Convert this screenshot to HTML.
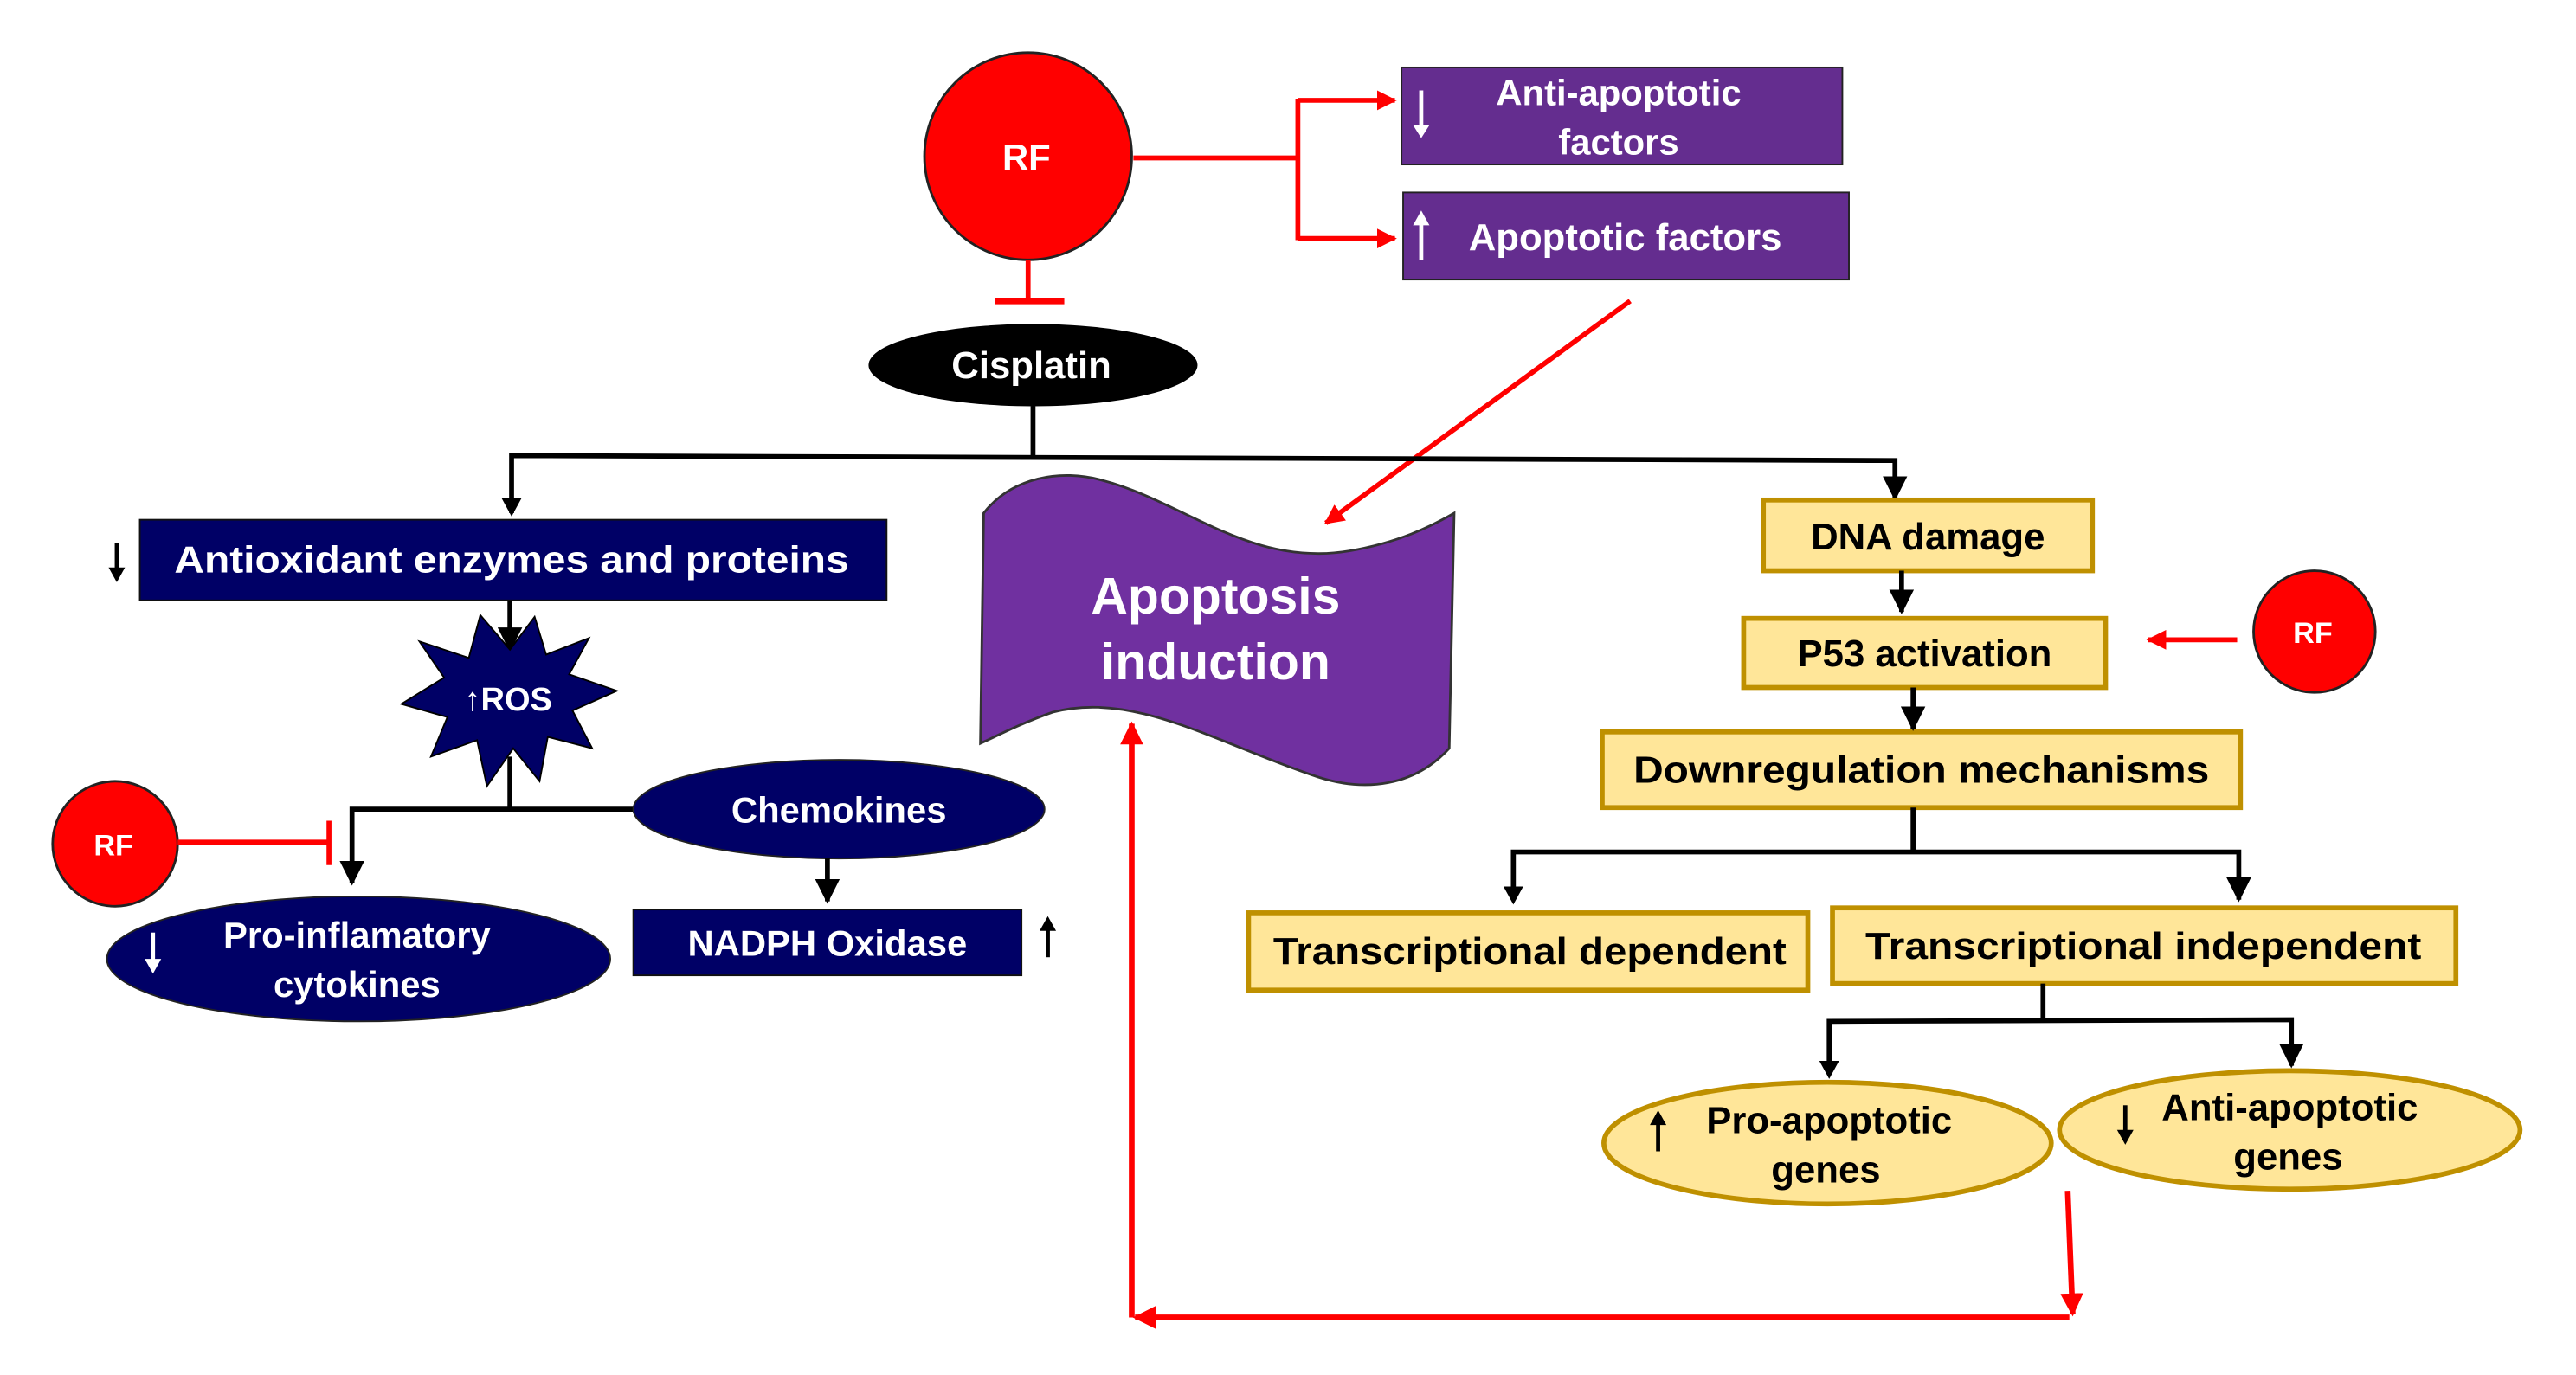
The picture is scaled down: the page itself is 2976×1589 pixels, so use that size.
<!DOCTYPE html>
<html><head><meta charset="utf-8"><style>
html,body{margin:0;padding:0;background:#fff;}
svg{display:block;}
text{font-family:"Liberation Sans",Arial,sans-serif;font-weight:bold;}
</style></head><body>
<svg width="2976" height="1589" viewBox="0 0 1566 836" preserveAspectRatio="none" xmlns="http://www.w3.org/2000/svg">
<defs>
<marker id="ab" viewBox="0 0 10 10" refX="9" refY="5" markerWidth="5" markerHeight="5" orient="auto"><path d="M0,0 L10,5 L0,10 z" fill="#000"/></marker>
<marker id="ar" viewBox="0 0 10 10" refX="9" refY="5" markerWidth="4" markerHeight="4" orient="auto"><path d="M0,0 L10,5 L0,10 z" fill="#f00"/></marker>
</defs>
<rect width="1566" height="836" fill="#fff"/>

<circle cx="625" cy="95" r="63" fill="#f00" stroke="#222" stroke-width="1.5"/>
<text x="624" y="103" fill="#fff" font-size="22" text-anchor="middle">RF</text>
<line x1="625" y1="158" x2="625" y2="183" stroke="#f00" stroke-width="3"/>
<line x1="605" y1="183" x2="647" y2="183" stroke="#f00" stroke-width="4"/>

<g stroke="#f00" stroke-width="3" fill="none">
<line x1="689" y1="96" x2="789" y2="96"/>
<line x1="789" y1="60" x2="789" y2="146"/>
<line x1="789" y1="61" x2="848" y2="61" marker-end="url(#ar)"/>
<line x1="789" y1="145" x2="848" y2="145" marker-end="url(#ar)"/>
<line x1="991" y1="183" x2="806" y2="318" marker-end="url(#ar)"/>
</g>
<rect x="852" y="41" width="268" height="59" fill="#642D8F" stroke="#222" stroke-width="1"/>
<text x="984" y="64" fill="#fff" font-size="22" text-anchor="middle">Anti-apoptotic</text>
<text x="984" y="94" fill="#fff" font-size="22" text-anchor="middle">factors</text>
<line x1="864" y1="55" x2="864" y2="78" stroke="#fff" stroke-width="2.5"/>
<path d="M859,76 L864,84 L869,76 z" fill="#fff"/>
<rect x="853" y="117" width="271" height="53" fill="#642D8F" stroke="#222" stroke-width="1"/>
<text x="988" y="152" fill="#fff" font-size="23" text-anchor="middle">Apoptotic factors</text>
<line x1="864" y1="158" x2="864" y2="134" stroke="#fff" stroke-width="2.5"/>
<path d="M859,137 L864,128 L869,137 z" fill="#fff"/>

<ellipse cx="628" cy="222" rx="100" ry="25" fill="#000"/>
<text x="627" y="230" fill="#fff" font-size="23" text-anchor="middle">Cisplatin</text>
<g stroke="#000" stroke-width="3" fill="none">
<line x1="628" y1="247" x2="628" y2="278"/>
<polyline points="311,312 311,277 1152,280 1152,303" marker-end="url(#ab)"/>
</g>
<path d="M305,303 L311,314 L317,303 z" fill="#000"/>

<rect x="85" y="316" width="454" height="49" fill="#000066" stroke="#111"/>
<text x="311" y="348" fill="#fff" font-size="23" text-anchor="middle" textLength="410" lengthAdjust="spacingAndGlyphs">Antioxidant enzymes and proteins</text>
<line x1="71" y1="330" x2="71" y2="348" stroke="#000" stroke-width="2.5"/>
<path d="M66,345 L71,354 L76,345 z" fill="#000"/>
<line x1="310" y1="365" x2="310" y2="395" stroke="#000" stroke-width="3" marker-end="url(#ab)"/>

<polygon points="310,395 325,375 332,398 358,388 346,410 375,420 348,432 360,455 333,448 328,475 312,455 296,478 290,450 262,460 272,436 244,428 270,412 255,390 285,400 292,374" fill="#000066" stroke="#000" stroke-width="1"/>
<text x="309" y="432" fill="#fff" font-size="20" text-anchor="middle">↑ROS</text>
<g stroke="#000" stroke-width="3" fill="none">
<line x1="310" y1="460" x2="310" y2="492"/>
<polyline points="385,492 214,492 214,537" marker-end="url(#ab)"/>
</g>

<circle cx="70" cy="513" r="38" fill="#f00" stroke="#222" stroke-width="1.5"/>
<text x="69" y="520" fill="#fff" font-size="18" text-anchor="middle">RF</text>
<line x1="108" y1="512" x2="200" y2="512" stroke="#f00" stroke-width="3"/>
<line x1="200" y1="499" x2="200" y2="526" stroke="#f00" stroke-width="3"/>

<ellipse cx="218" cy="583" rx="153" ry="38" fill="#000066" stroke="#222"/>
<text x="217" y="576" fill="#fff" font-size="22" text-anchor="middle">Pro-inflamatory</text>
<text x="217" y="606" fill="#fff" font-size="22" text-anchor="middle">cytokines</text>
<line x1="93" y1="567" x2="93" y2="586" stroke="#fff" stroke-width="2.5"/>
<path d="M88,583 L93,592 L98,583 z" fill="#fff"/>

<ellipse cx="510" cy="492" rx="125" ry="30" fill="#000066" stroke="#222"/>
<text x="510" y="500" fill="#fff" font-size="22" text-anchor="middle">Chemokines</text>
<line x1="503" y1="522" x2="503" y2="548" stroke="#000" stroke-width="3" marker-end="url(#ab)"/>
<rect x="385" y="553" width="236" height="40" fill="#000066" stroke="#111"/>
<text x="503" y="581" fill="#fff" font-size="22" text-anchor="middle">NADPH Oxidase</text>
<line x1="637" y1="582" x2="637" y2="564" stroke="#000" stroke-width="2.5"/>
<path d="M632,566 L637,557 L642,566 z" fill="#000"/>

<path d="M598,312 C615,290 645,285 670,292 C720,305 760,345 820,335 C850,330 870,320 884,312 L881,455 C860,478 830,482 800,472 C740,452 690,420 640,433 C620,440 605,448 596,452 Z" fill="#7030A0" stroke="#333" stroke-width="1.5"/>
<text x="739" y="373" fill="#fff" font-size="31" text-anchor="middle">Apoptosis</text>
<text x="739" y="413" fill="#fff" font-size="31" text-anchor="middle">induction</text>

<g fill="#FFE699" stroke="#BF9000" stroke-width="3">
<rect x="1072" y="304" width="200" height="43"/>
<rect x="1060" y="376" width="220" height="42"/>
<rect x="974" y="445" width="388" height="46"/>
<rect x="759" y="555" width="340" height="47"/>
<rect x="1114" y="552" width="379" height="46"/>
<ellipse cx="1111" cy="695" rx="136" ry="37"/>
<ellipse cx="1392" cy="687" rx="140" ry="36"/>
</g>
<g fill="#000" font-size="23" text-anchor="middle">
<text x="1172" y="334">DNA damage</text>
<text x="1170" y="405">P53 activation</text>
<text x="1168" y="476" textLength="350" lengthAdjust="spacingAndGlyphs">Downregulation mechanisms</text>
<text x="930" y="586" textLength="312" lengthAdjust="spacingAndGlyphs">Transcriptional dependent</text>
<text x="1303" y="583" textLength="338" lengthAdjust="spacingAndGlyphs">Transcriptional independent</text>
<text x="1112" y="689">Pro-apoptotic</text>
<text x="1110" y="719">genes</text>
<text x="1392" y="681">Anti-apoptotic</text>
<text x="1391" y="711">genes</text>
</g>
<g stroke="#000" stroke-width="3" fill="none">
<line x1="1156" y1="347" x2="1156" y2="372" marker-end="url(#ab)"/>
<line x1="1163" y1="418" x2="1163" y2="443" marker-end="url(#ab)"/>
<line x1="1163" y1="491" x2="1163" y2="518"/>
<polyline points="920,545 920,518 1361,518 1361,547" marker-end="url(#ab)"/>
<line x1="1242" y1="598" x2="1242" y2="620"/>
<polyline points="1112,652 1112,621 1393,620 1393,648" marker-end="url(#ab)"/>
</g>
<path d="M914,539 L920,550 L926,539 z" fill="#000"/>
<path d="M1106,645 L1112,656 L1118,645 z" fill="#000"/>
<line x1="1008" y1="700" x2="1008" y2="682" stroke="#000" stroke-width="2.5"/>
<path d="M1003,684 L1008,675 L1013,684 z" fill="#000"/>
<line x1="1292" y1="672" x2="1292" y2="690" stroke="#000" stroke-width="2.5"/>
<path d="M1287,687 L1292,696 L1297,687 z" fill="#000"/>

<circle cx="1407" cy="384" r="37" fill="#f00" stroke="#222" stroke-width="1.5"/>
<text x="1406" y="391" fill="#fff" font-size="18" text-anchor="middle">RF</text>
<line x1="1360" y1="389" x2="1306" y2="389" stroke="#f00" stroke-width="3" marker-end="url(#ar)"/>

<g stroke="#f00" stroke-width="3.5" fill="none">
<line x1="1257" y1="724" x2="1260" y2="799" marker-end="url(#ar)"/>
<line x1="1258" y1="801" x2="690" y2="801" marker-end="url(#ar)"/>
<line x1="688" y1="801" x2="688" y2="440" marker-end="url(#ar)"/>
</g>
</svg>
</body></html>
